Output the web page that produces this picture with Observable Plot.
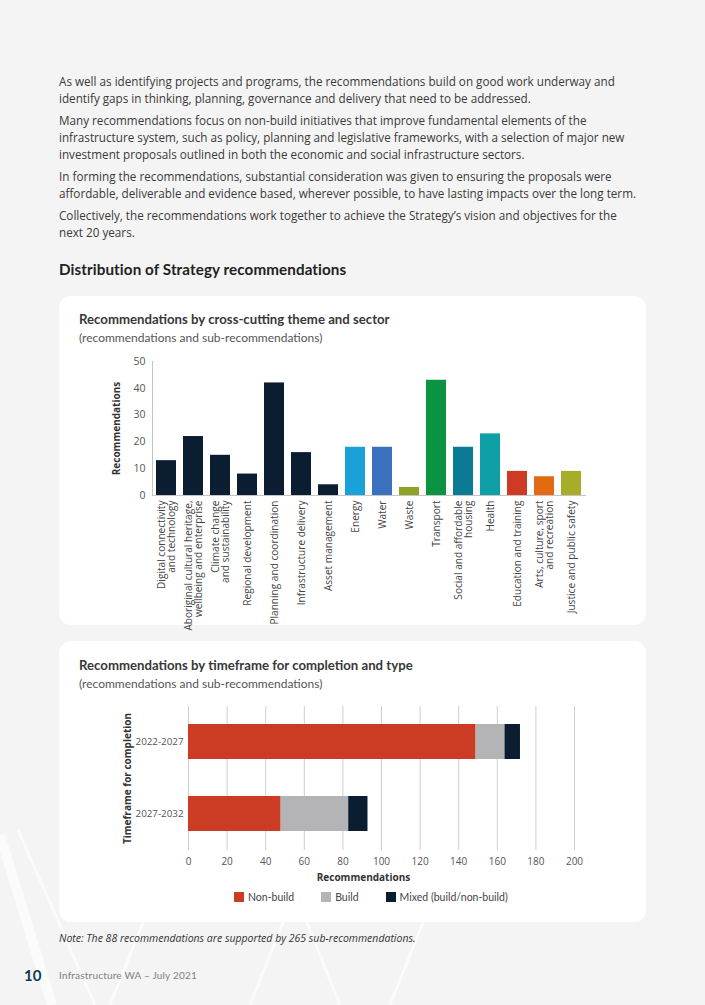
<!DOCTYPE html>
<html>
<head>
<meta charset="utf-8">
<script src="https://cdn.jsdelivr.net/npm/d3@7"></script>
<script src="https://cdn.jsdelivr.net/npm/@observablehq/plot@0.6"></script>
<style>
  html, body { margin: 0; padding: 0; }
  body { width: 705px; height: 1005px; background: #f4f4f4; position: relative; overflow: hidden; font-family: "Open Sans", sans-serif; color: #3a3a3a; }
  .abs { position: absolute; }
  #deco { position: absolute; left: 0; top: 0; }
  #intro { left: 59px; top: 72.5px; width: 620px; font-size: 11.7px; line-height: 17px; color: #3a3a3a; }
  #intro p { margin: 0 0 5.3px 0; white-space: nowrap; }
  #heading { left: 59px; top: 259px; font-family: "Lato", sans-serif; font-weight: 700; font-size: 15.2px; line-height: 20px; color: #222; letter-spacing: 0.1px; }
  .card { position: absolute; left: 59px; width: 587px; background: #fff; border-radius: 12px; }
  .ctitle { position: absolute; left: 79px; font-family: "Lato", sans-serif; font-weight: 700; font-size: 13.2px; line-height: 16px; color: #383838; }
  .csub { position: absolute; left: 79px; font-family: "Lato", sans-serif; font-size: 12px; line-height: 16px; color: #555; }
  #legend { left: 234px; top: 890px; display: flex; align-items: center; font-family: "Lato", sans-serif; font-size: 10.5px; line-height: 14px; color: #444; }
  #legend .item { display: flex; align-items: center; margin-right: 27px; }
  #legend .sw { width: 10px; height: 10px; margin-right: 4px; }
  #note { left: 59px; top: 930px; font-size: 10.5px; font-style: italic; line-height: 16px; color: #333; }
  #pnum { left: 24px; top: 966px; font-family: "Lato", sans-serif; font-weight: 700; font-size: 15px; line-height: 18px; color: #0d3c5a; }
  #foot { left: 59px; top: 968px; font-family: "Lato", sans-serif; font-weight: 400; font-size: 10px; line-height: 14px; color: #808080; letter-spacing: 0.2px; }
</style>
</head>
<body>
<svg id="deco" width="705" height="1005">
  <g fill="none" stroke="#ffffff" stroke-opacity="0.6">
    <polyline points="0,835 52,1005" stroke-width="10"/>
    <polyline points="18,830 95,1005" stroke-width="3"/>
    <polyline points="110,1005 150,905" stroke-width="3"/>
    <polyline points="250,1005 290,905" stroke-width="3"/>
    <polyline points="300,905 340,1005" stroke-width="3"/>
    <polyline points="390,1005 430,905" stroke-width="3"/>
  </g>
</svg>

<div id="intro" class="abs">
  <p>As well as identifying projects and programs, the recommendations build on good work underway and<br>identify gaps in thinking, planning, governance and delivery that need to be addressed.</p>
  <p>Many recommendations focus on non-build initiatives that improve fundamental elements of the<br>infrastructure system, such as policy, planning and legislative frameworks, with a selection of major new<br>investment proposals outlined in both the economic and social infrastructure sectors.</p>
  <p>In forming the recommendations, substantial consideration was given to ensuring the proposals were<br>affordable, deliverable and evidence based, wherever possible, to have lasting impacts over the long term.</p>
  <p>Collectively, the recommendations work together to achieve the Strategy’s vision and objectives for the<br>next 20 years.</p>
</div>

<div id="heading" class="abs">Distribution of Strategy recommendations</div>

<div class="card" style="top:296px;height:329px;"></div>
<div class="ctitle" style="top:311px;">Recommendations by cross-cutting theme and sector</div>
<div class="csub" style="top:330px;">(recommendations and sub-recommendations)</div>
<div id="chart1" class="abs" style="left:59px;top:350px;"></div>

<div class="card" style="top:641px;height:281px;"></div>
<div class="ctitle" style="top:657px;">Recommendations by timeframe for completion and type</div>
<div class="csub" style="top:676px;">(recommendations and sub-recommendations)</div>
<div id="chart2" class="abs" style="left:59px;top:700px;"></div>
<div id="legend" class="abs"></div>

<div id="note" class="abs">Note: The 88 recommendations are supported by 265 sub-recommendations.</div>
<div id="pnum" class="abs">10</div>
<div id="foot" class="abs">Infrastructure WA – July 2021</div>

<script>
// ---- Chart 1 data ----
const themes = [
  "Digital connectivity\nand technology",
  "Aboriginal cultural heritage,\nwellbeing and enterprise",
  "Climate change\nand sustainability",
  "Regional development",
  "Planning and coordination",
  "Infrastructure delivery",
  "Asset management",
  "Energy",
  "Water",
  "Waste",
  "Transport",
  "Social and affordable\nhousing",
  "Health",
  "Education and training",
  "Arts, culture, sport\nand recreation",
  "Justice and public safety"
];
const themeCounts = [13, 22, 15, 8, 42, 16, 4, 18, 18, 3, 43, 18, 23, 9, 7, 9];
const yTicks1 = [0, 10, 20, 30, 40, 50];

// ---- Chart 2 data ----
const periods = ["2022-2027", "2027-2032"];
const types = ["Non-build", "Build", "Mixed (build/non-build)"];
const nonBuild = [149, 48];
const build = [15, 35];
const mixed = [8, 10];
const xTicks2 = [0, 20, 40, 60, 80, 100, 120, 140, 160, 180, 200];

// ---- palettes ----
const themePalette = ["#0b1d30", "#0b1d30", "#0b1d30", "#0b1d30", "#0b1d30", "#0b1d30", "#0b1d30",
  "#1aa1d9", "#3b70bf", "#8fa225", "#0a9340", "#0b7b95", "#0fa0a7", "#cf3a24", "#e16a12", "#a6ad29"];
const typePalette = ["#cc3b23", "#b4b3b5", "#0b1d30"];

const data1 = themes.map((t, i) => ({theme: t, count: themeCounts[i]}));
const values2 = [nonBuild, build, mixed];
const data2 = periods.flatMap((p, i) => types.map((t, j) => ({period: p, type: t, value: values2[j][i]})));

const font = {fontFamily: "'Open Sans', sans-serif", fontSize: "10px", color: "#444", background: "transparent", overflow: "visible"};

const chart1 = Plot.plot({
  width: 587, height: 270,
  marginLeft: 93, marginRight: 60, marginTop: 11, marginBottom: 125,
  style: font,
  x: {domain: themes, paddingInner: 0.25, paddingOuter: 0.07, label: null},
  y: {domain: [0, 50], label: null},
  color: {domain: themes, range: themePalette},
  marks: [
    Plot.barY(data1, {x: "theme", y: "count", fill: "theme"}),
    Plot.ruleY([0], {stroke: "#c4c4c4", strokeWidth: 1.2}),
    Plot.frame({anchor: "left", stroke: "#c4c4c4"}),
    Plot.axisY({ticks: yTicks1, tickSize: 0, tickPadding: 7, fontSize: 10.5, fill: "#555", label: null}),
    Plot.axisX({tickSize: 0, tickPadding: 5, tickRotate: -90, fontSize: 10.1, lineHeight: 1.05, fill: "#444", label: null}),
    Plot.text(["Recommendations"], {frameAnchor: "left", textAnchor: "middle", rotate: -90, dx: -36, fontWeight: "bold", fontSize: 10, fill: "#333"})
  ]
});
document.getElementById("chart1").append(chart1);

const chart2 = Plot.plot({
  width: 587, height: 190,
  marginLeft: 129, marginRight: 72, marginTop: 6, marginBottom: 40,
  style: font,
  x: {domain: [0, 200], label: null},
  y: {domain: periods, paddingInner: 0.507, paddingOuter: 0.24, label: null},
  color: {domain: types, range: typePalette},
  marks: [
    Plot.gridX({ticks: xTicks2, stroke: "#cfcfcf", strokeOpacity: 1}),
    Plot.barX(data2, Plot.stackX({x: "value", y: "period", fill: "type"})),
    Plot.axisX({ticks: xTicks2, tickSize: 0, tickPadding: 7, fontSize: 10, fill: "#555", label: null}),
    Plot.axisY({tickSize: 0, tickPadding: 5, fontSize: 9.8, fill: "#555", label: null}),
    Plot.text(["Recommendations"], {frameAnchor: "bottom", textAnchor: "middle", dy: 30, dx: -18, fontWeight: "bold", fontSize: 10, fill: "#333"}),
    Plot.text(["Timeframe for completion"], {frameAnchor: "left", textAnchor: "middle", rotate: -90, dx: -61, fontWeight: "bold", fontSize: 10, fill: "#333"})
  ]
});
document.getElementById("chart2").append(chart2);

// legend
const legend = document.getElementById("legend");
types.forEach((t, i) => {
  const item = document.createElement("div");
  item.className = "item";
  const sw = document.createElement("div");
  sw.className = "sw";
  sw.style.background = typePalette[i];
  const lab = document.createElement("span");
  lab.textContent = t;
  item.append(sw, lab);
  legend.append(item);
});
</script>
</body>
</html>
